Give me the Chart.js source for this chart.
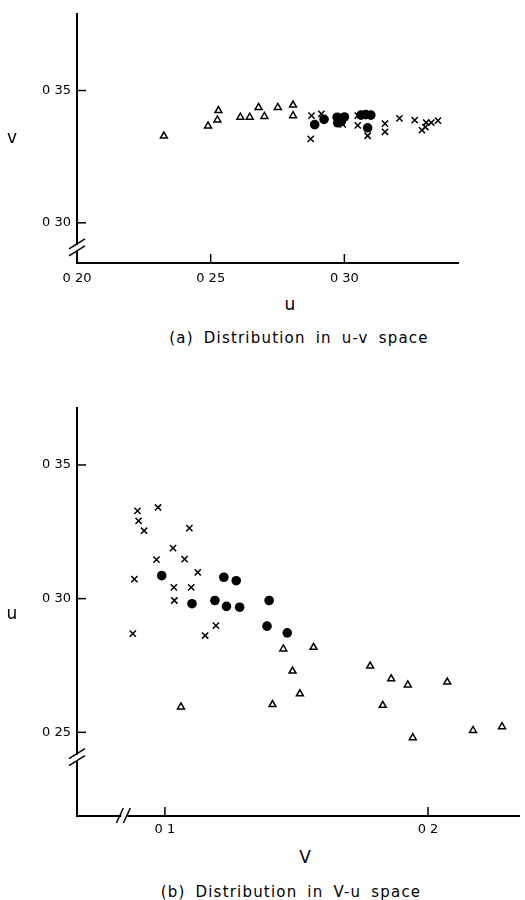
<!DOCTYPE html>
<html lang="en">
<head>
    <meta charset="UTF-8">
    <title>Distribution in u-v and V-u space</title>
    <script src="https://cdn.jsdelivr.net/npm/chart.js"></script>
    <style>
        body { margin: 0; background: #fff; }
        .master { position: relative; width: 525px; height: 900px; font-family: "DejaVu Sans", sans-serif; color: #000; }
        .master canvas { position: absolute; left: 0; }
        .lbl { position: absolute; transform: translate(-50%, -50%); white-space: nowrap; }
        .axt { font-size: 17px; }
        .cap { font-size: 15px; letter-spacing: 1.2px; word-spacing: 4px; }
    </style>
</head>
<body>
    <div class="master">
        <canvas id="chartA" width="525" height="290" style="top:0"></canvas>
        <canvas id="chartB" width="525" height="460" style="top:380px"></canvas>
        <div class="lbl axt" style="left:12px;top:137px">v</div>
        <div class="lbl axt" style="left:290px;top:304px">u</div>
        <div class="lbl cap" style="left:299px;top:338px">(a) Distribution in u-v space</div>
        <div class="lbl axt" style="left:12px;top:613px">u</div>
        <div class="lbl axt" style="left:305px;top:857px">V</div>
        <div class="lbl cap" style="left:291px;top:892px">(b) Distribution in V-u space</div>
    </div>

    <script>
        // (a) u-v space
        const aTriU = [0.2325, 0.2490, 0.2525, 0.2529, 0.2611, 0.2646, 0.2679, 0.2701, 0.2751, 0.2808, 0.2808];
        const aTriV = [0.3328, 0.3366, 0.3389, 0.3424, 0.3399, 0.3399, 0.3436, 0.3402, 0.3436, 0.3445, 0.3405];
        const aDotU = [0.2889, 0.2924, 0.2973, 0.3000, 0.2975, 0.2988, 0.3062, 0.3080, 0.3099, 0.3087];
        const aDotV = [0.3371, 0.3391, 0.3399, 0.3400, 0.3378, 0.3383, 0.3407, 0.3409, 0.3407, 0.3359];
        const aCrossU = [0.2877, 0.2914, 0.2874, 0.2994, 0.3050, 0.3050, 0.3087, 0.3152, 0.3152, 0.3206, 0.3263, 0.3306, 0.3325, 0.3350, 0.3290, 0.3303];
        const aCrossV = [0.3405, 0.3412, 0.3317, 0.3372, 0.3405, 0.3368, 0.3329, 0.3375, 0.3344, 0.3395, 0.3388, 0.3379, 0.3379, 0.3386, 0.3350, 0.3362];
        const aTicksX = [0.20, 0.25, 0.30];
        const aTicksY = [0.30, 0.35];

        // (b) V-u space
        const bCrossV = [0.0896, 0.0900, 0.0921, 0.0974, 0.1093, 0.1031, 0.0968, 0.1075, 0.1125, 0.0884, 0.1034, 0.1100, 0.1036, 0.0878, 0.1153, 0.1194];
        const bCrossU = [0.3328, 0.3291, 0.3254, 0.3341, 0.3264, 0.3189, 0.3146, 0.3148, 0.3098, 0.3073, 0.3042, 0.3042, 0.2993, 0.2869, 0.2862, 0.2899];
        const bDotV = [0.0988, 0.1103, 0.1190, 0.1224, 0.1234, 0.1271, 0.1284, 0.1396, 0.1388, 0.1465];
        const bDotU = [0.3086, 0.2981, 0.2993, 0.3080, 0.2971, 0.3067, 0.2968, 0.2993, 0.2897, 0.2872];
        const bTriV = [0.1061, 0.1409, 0.1450, 0.1485, 0.1513, 0.1565, 0.1780, 0.1860, 0.1923, 0.1828, 0.2073, 0.1942, 0.2171, 0.2281];
        const bTriU = [0.2595, 0.2604, 0.2812, 0.2729, 0.2644, 0.2818, 0.2748, 0.2700, 0.2677, 0.2601, 0.2688, 0.2480, 0.2507, 0.2521];
        const bTicksX = [0.1, 0.2];
        const bTicksY = [0.25, 0.30, 0.35];

        function pts(xs, ys) {
            return xs.map((x, i) => ({ x: x, y: ys[i] }));
        }

        function line(ctx, x1, y1, x2, y2) {
            ctx.beginPath();
            ctx.moveTo(x1, y1);
            ctx.lineTo(x2, y2);
            ctx.stroke();
        }

        // inward tick marks and the // axis breaks
        const axisMarks = {
            id: 'axisMarks',
            afterDraw(chart, args, opts) {
                const ctx = chart.ctx;
                const a = chart.chartArea;
                const xs = chart.scales.x, ys = chart.scales.y;
                ctx.save();
                ctx.strokeStyle = '#000';
                ctx.lineWidth = 1.5;
                xs.ticks.forEach(t => {
                    const px = xs.getPixelForValue(t.value);
                    if (px > a.left + 3) line(ctx, px, a.bottom, px, a.bottom - 9);
                });
                ys.ticks.forEach(t => {
                    const py = ys.getPixelForValue(t.value);
                    line(ctx, a.left, py, a.left + 9, py);
                });
                if (opts.yBreak != null) {
                    const py = ys.getPixelForValue(opts.yBreak);
                    ctx.fillStyle = '#fff';
                    ctx.fillRect(a.left - 3, py - 3, 6, 6);
                    line(ctx, a.left - 8, py + 1, a.left + 8, py - 9);
                    line(ctx, a.left - 8, py + 8, a.left + 8, py - 2);
                }
                if (opts.xBreak != null) {
                    const px = xs.getPixelForValue(opts.xBreak);
                    ctx.fillStyle = '#fff';
                    ctx.fillRect(px - 3, a.bottom - 3, 6, 6);
                    line(ctx, px - 8, a.bottom + 7, px - 1, a.bottom - 8);
                    line(ctx, px - 1, a.bottom + 7, px + 6, a.bottom - 8);
                }
                ctx.restore();
            }
        };

        function fmt(v, digits) {
            return '0 ' + v.toFixed(digits).slice(2);
        }

        function makeChart(id, sets, cfg) {
            const tickFont = { family: 'DejaVu Sans', size: 13 };
            return new Chart(document.getElementById(id), {
                type: 'scatter',
                data: { datasets: sets },
                options: {
                    responsive: false,
                    animation: false,
                    layout: { padding: cfg.padding },
                    plugins: {
                        legend: { display: false },
                        tooltip: { enabled: false },
                        axisMarks: { yBreak: cfg.yBreak, xBreak: cfg.xBreak }
                    },
                    scales: {
                        x: {
                            type: 'linear',
                            min: cfg.xMin, max: cfg.xMax,
                            afterBuildTicks: s => { s.ticks = cfg.xTicks.map(v => ({ value: v })); },
                            afterFit: s => { s.height = cfg.xHeight; },
                            grid: { display: false, drawTicks: false },
                            border: { display: true, color: '#000', width: 2 },
                            ticks: { color: '#000', font: tickFont, padding: cfg.xPad, maxRotation: 0,
                                callback: v => fmt(v, cfg.xDigits) }
                        },
                        y: {
                            type: 'linear',
                            min: cfg.yMin, max: cfg.yMax,
                            afterBuildTicks: s => { s.ticks = cfg.yTicks.map(v => ({ value: v })); },
                            afterFit: s => { s.width = 77; },
                            grid: { display: false, drawTicks: false },
                            border: { display: true, color: '#000', width: 2 },
                            ticks: { color: '#000', font: tickFont, padding: 6,
                                callback: v => fmt(v, 2) }
                        }
                    }
                },
                plugins: [axisMarks]
            });
        }

        const tri = (data) => ({ data: data, pointStyle: 'triangle', pointRadius: 4, borderWidth: 1.5,
            borderColor: '#000', backgroundColor: '#fff' });
        const dot = (data) => ({ data: data, pointStyle: 'circle', pointRadius: 4.8, borderWidth: 0,
            backgroundColor: '#000', borderColor: '#000' });
        const cross = (data) => ({ data: data, pointStyle: 'crossRot', pointRadius: 4.4, borderWidth: 1.5,
            borderColor: '#000', backgroundColor: '#000' });

        makeChart('chartA', [
            tri(pts(aTriU, aTriV)),
            cross(pts(aCrossU, aCrossV)),
            dot(pts(aDotU, aDotV))
        ], {
            padding: { top: 7, right: 67, left: 0, bottom: 0 },
            xMin: 0.20, xMax: 0.3425, yMin: 0.2848, yMax: 0.379,
            xTicks: aTicksX, yTicks: aTicksY, xDigits: 2,
            xHeight: 27, xPad: 8, yBreak: 0.2905
        });

        makeChart('chartB', [
            tri(pts(bTriV, bTriU)),
            cross(pts(bCrossV, bCrossU)),
            dot(pts(bDotV, bDotU))
        ], {
            padding: { top: 28, right: 0, left: 0, bottom: 0 },
            xMin: 0.0666, xMax: 0.2346, yMin: 0.2187, yMax: 0.3713,
            xTicks: bTicksX, yTicks: bTicksY, xDigits: 1,
            xHeight: 24, xPad: 6, yBreak: 0.2405, xBreak: 0.0846
        });
    </script>
</body>
</html>
